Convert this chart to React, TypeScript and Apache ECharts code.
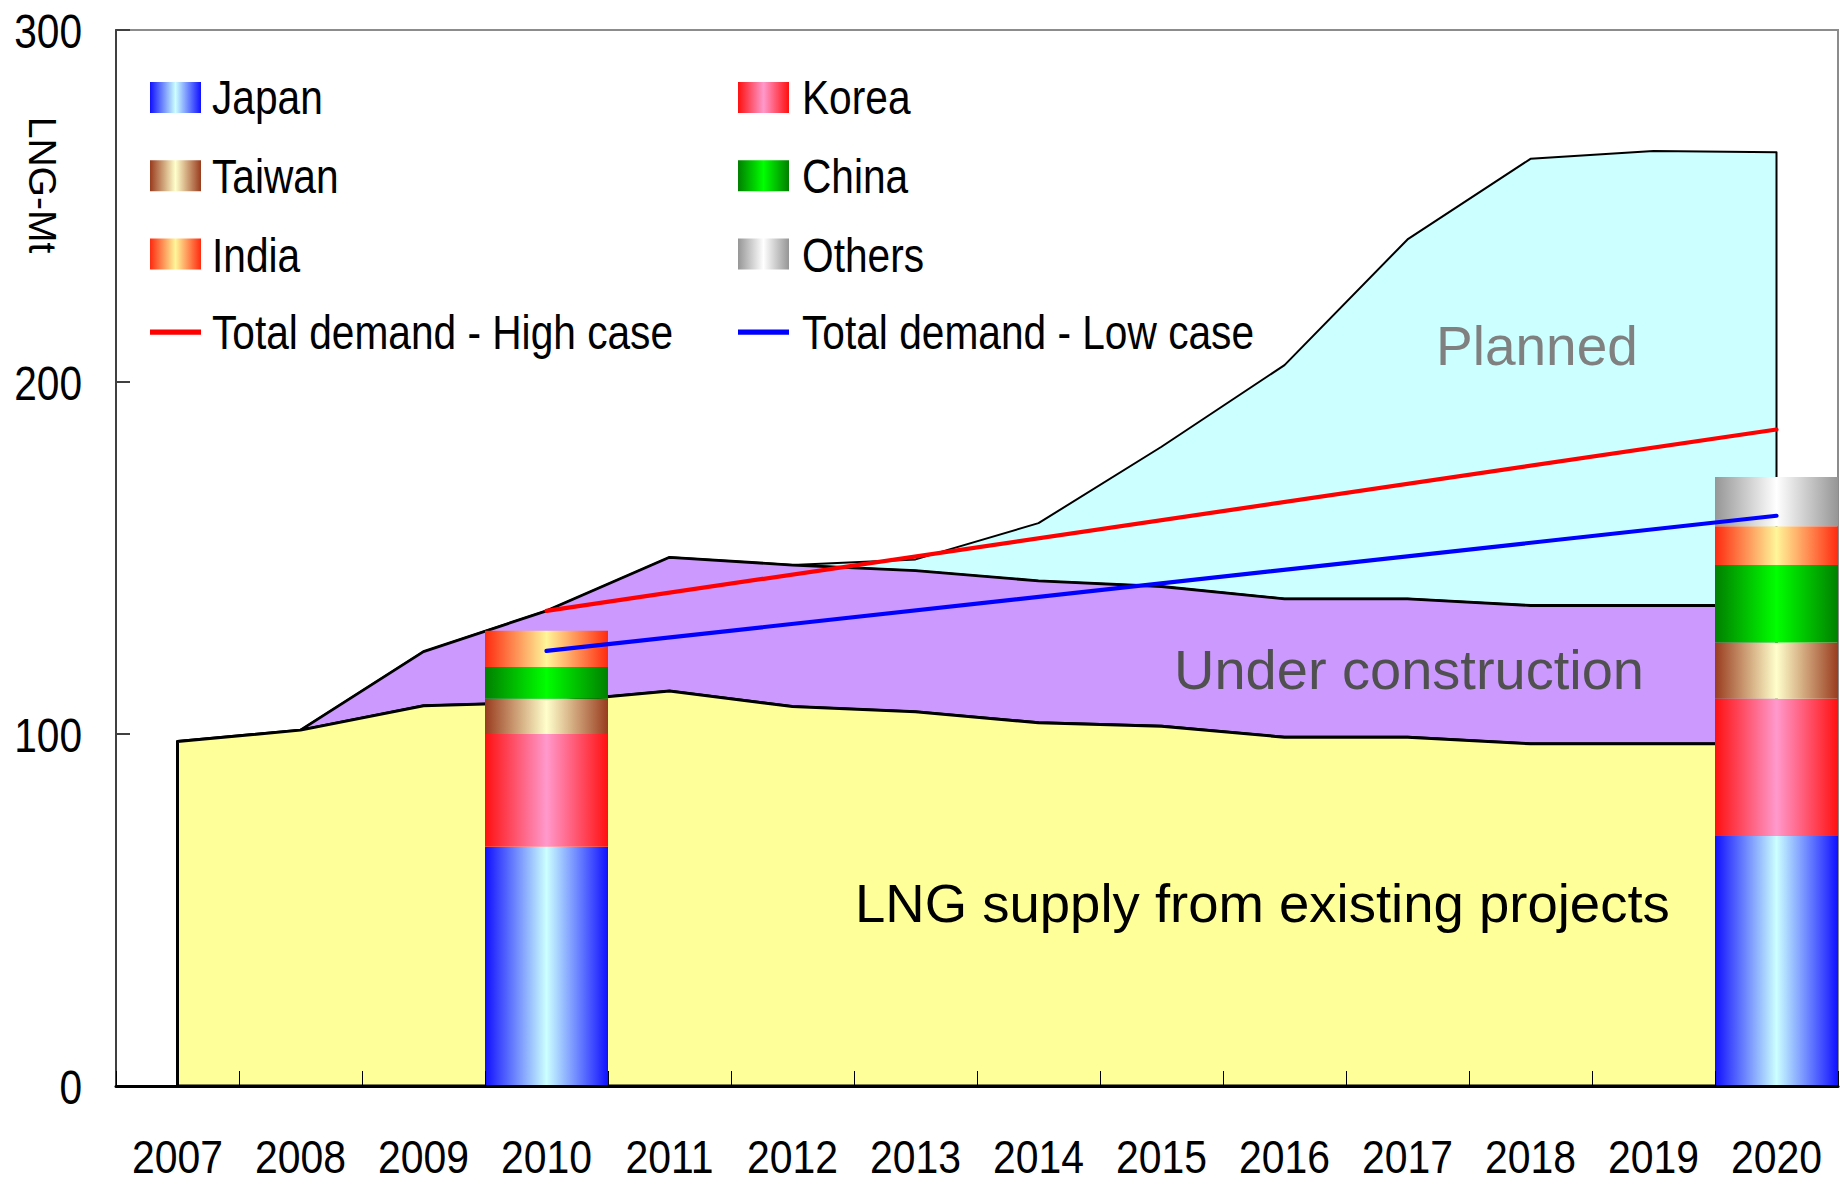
import React, { useEffect, useRef } from "react";
import * as echarts from "echarts";

const SANS = "'Liberation Sans', Arial, sans-serif";
const CONDENSE = 0.83;

const years = ["2007", "2008", "2009", "2010", "2011", "2012", "2013", "2014", "2015", "2016", "2017", "2018", "2019", "2020"];
const yTicks = [0, 100, 200, 300];

// Supply capacity (LNG-Mt)
const existingSupply = [97.9, 101.1, 108, 109, 112.2, 107.8, 106.3, 103.2, 102.2, 99.1, 99.1, 97.2, 97.2, 97.2];
const underConstruction = [0, 0, 15.4, 26, 38, 40.2, 40.1, 40.3, 39.7, 39.3, 39.3, 39.3, 39.3, 39.3];
const planned = [0, 0, 0, 0, 0, 0, 3.2, 16.4, 39.7, 66.4, 102.1, 126.9, 129.1, 128.8];

// Demand lines (only end points given)
const highCase: (number | null)[] = [null, null, null, 135, null, null, null, null, null, null, null, null, null, 186.5];
const lowCase: (number | null)[] = [null, null, null, 123.6, null, null, null, null, null, null, null, null, null, 162];

// Demand breakdown bars
const barYears = ["2010", "2020"];
const japan = [68, 71];
const korea = [32, 39];
const taiwan = [10, 16];
const china = [9, 22];
const india = [10.3, 11];
const others = [0, 14];

const legendCol1 = ["Japan", "Taiwan", "India", "Total demand - High case"];
const legendCol2 = ["Korea", "China", "Others", "Total demand - Low case"];

const grad = (edge: string, center: string) =>
  new echarts.graphic.LinearGradient(0, 0, 1, 0, [
    { offset: 0, color: edge },
    { offset: 0.5, color: center },
    { offset: 1, color: edge },
  ]);

function cumulative(...arrs: number[][]) {
  return arrs[0].map((_, i) => arrs.reduce((s, a) => s + a[i], 0));
}

const LINE_ICON = "path://M0,0 L53,0 L53,5.5 L0,5.5 Z";

export default function App() {
  const ref = useRef<HTMLDivElement>(null);

  useEffect(() => {
    if (!ref.current) return;
    const chart = echarts.init(ref.current, undefined, { renderer: "svg" });

    const top0 = cumulative(existingSupply);
    const top1 = cumulative(existingSupply, underConstruction);
    const top2 = cumulative(existingSupply, underConstruction, planned);
    const zeros = years.map(() => 0);

    const areaSeries = (name: string, lower: number[], upper: number[], fill: string, lw: number) => ({
      type: "custom",
      name,
      data: [[0, upper[0]]],
      encode: { x: 0, y: 1 },
      silent: true,
      renderItem: (params: any, api: any) => {
        const pts: number[][] = [];
        for (let i = 0; i < years.length; i++) pts.push(api.coord([i, upper[i]]));
        for (let i = years.length - 1; i >= 0; i--) pts.push(api.coord([i, lower[i]]));
        return {
          type: "polygon",
          shape: { points: pts },
          style: { fill, stroke: "#000", lineWidth: lw, lineJoin: "round" },
        };
      },
    });

    const barData = (vals: number[]) =>
      years.map((y) => {
        const k = barYears.indexOf(y);
        return k >= 0 ? vals[k] : null;
      });

    const barSeries = (name: string, vals: number[], edge: string, center: string) => ({
      type: "bar",
      name,
      stack: "demand",
      barWidth: "100%",
      data: barData(vals),
      itemStyle: { color: grad(edge, center) },
    });

    const legendCommon = {
      orient: "vertical",
      icon: "rect",
      itemWidth: 51,
      itemHeight: 31,
      itemGap: 29.2,
      padding: 0,
      selectedMode: false,
      formatter: () => " ",
      textStyle: { fontSize: 49, lineHeight: 49, fontFamily: SANS, color: "#000" },
    };

    chart.setOption({
      animation: false,
      backgroundColor: "#fff",
      grid: {
        left: 116,
        right: 2,
        top: 30,
        bottom: 99,
        show: true,
        borderColor: "#8c8c8c",
        borderWidth: 2,
      },
      legend: [
        {
          ...legendCommon,
          left: 150,
          top: 73,
          data: [
            ...legendCol1.slice(0, 3),
            { name: legendCol1[3], icon: LINE_ICON, itemStyle: { color: "#FF0000" } },
          ],
        },
        {
          ...legendCommon,
          left: 738,
          top: 73,
          data: [
            ...legendCol2.slice(0, 3),
            { name: legendCol2[3], icon: LINE_ICON, itemStyle: { color: "#0000FF" } },
          ],
        },
      ],
      xAxis: {
        type: "category",
        data: years,
        boundaryGap: true,
        z: 10,
        axisLine: { lineStyle: { color: "#000", width: 3 } },
        axisTick: { show: true, inside: true, length: 15, interval: 0, lineStyle: { color: "#000", width: 1 } },
        axisLabel: { show: false },
        splitLine: { show: false },
      },
      yAxis: {
        type: "value",
        min: yTicks[0],
        max: yTicks[yTicks.length - 1],
        interval: 100,
        axisLine: { show: true, lineStyle: { color: "#404040", width: 2 } },
        axisTick: { show: true, inside: true, length: 14, lineStyle: { color: "#404040", width: 2 } },
        axisLabel: { show: false },
        splitLine: { show: false },
      },
      series: [
        areaSeries("Planned", top1, top2, "#CCFFFF", 2),
        areaSeries("Under construction", top0, top1, "#CC99FF", 2.8),
        areaSeries("Existing", zeros, top0, "#FFFF99", 3),
        barSeries("Japan", japan, "#1010FF", "#CCFFFF"),
        barSeries("Korea", korea, "#FF1010", "#FF99CC"),
        barSeries("Taiwan", taiwan, "#993C1E", "#FFFFCC"),
        barSeries("China", china, "#008000", "#00FF00"),
        barSeries("India", india, "#FF2A10", "#FFF599"),
        barSeries("Others", others, "#969696", "#FFFFFF"),
        {
          type: "line",
          name: "Total demand - High case",
          data: highCase,
          connectNulls: true,
          symbol: "none",
          z: 4,
          lineStyle: { color: "#FF0000", width: 4.2, cap: "round" },
          itemStyle: { color: "#FF0000" },
        },
        {
          type: "line",
          name: "Total demand - Low case",
          data: lowCase,
          connectNulls: true,
          symbol: "none",
          z: 4,
          lineStyle: { color: "#0000FF", width: 4.2, cap: "round" },
          itemStyle: { color: "#0000FF" },
        },
      ],
    });

    const condensedText = (text: string, x: number, y: number, align: string, size = 49, sx = CONDENSE) => ({
      type: "text",
      x,
      y,
      scaleX: sx,
      z: 20,
      silent: true,
      style: {
        text,
        fontSize: size,
        fontFamily: SANS,
        fill: "#000",
        textAlign: align,
        textVerticalAlign: "middle",
      },
    });

    const xLabelEls = years.map((y, i) => {
      const p = chart.convertToPixel({ gridIndex: 0 }, [i, 0]) as number[];
      return condensedText(y, p[0], 1156, "center", 47, 0.87);
    });
    const yLabelEls = yTicks.map((v) => {
      const p = chart.convertToPixel({ gridIndex: 0 }, [0, v]) as number[];
      return condensedText(String(v), 82, p[1] + 1, "right");
    });
    const rowY = [97.5, 176.5, 255, 332];
    const legendTextEls = [
      ...legendCol1.map((t, i) => condensedText(t, 212, rowY[i], "left")),
      ...legendCol2.map((t, i) => condensedText(t, 802, rowY[i], "left")),
    ];

    chart.setOption({
      graphic: [
        {
          type: "text",
          x: 42,
          y: 185,
          rotation: -Math.PI / 2,
          style: { text: "LNG-Mt", fontSize: 39, fontFamily: SANS, fill: "#000", textAlign: "center", textVerticalAlign: "middle" },
        },
        {
          type: "text",
          x: 1436,
          y: 346,
          z: 5,
          style: { text: "Planned", fontSize: 55, fontFamily: SANS, fill: "#808080", textAlign: "left", textVerticalAlign: "middle" },
        },
        {
          type: "text",
          x: 1174,
          y: 669,
          z: 5,
          style: { text: "Under construction", fontSize: 56, fontFamily: SANS, fill: "#505050", textAlign: "left", textVerticalAlign: "middle" },
        },
        {
          type: "text",
          x: 855,
          y: 903,
          z: 5,
          style: { text: "LNG supply from existing projects", fontSize: 54.5, fontFamily: SANS, fill: "#000", textAlign: "left", textVerticalAlign: "middle" },
        },
        ...xLabelEls,
        ...yLabelEls,
        ...legendTextEls,
      ],
    });

    return () => chart.dispose();
  }, []);

  return (
    <div
      ref={ref}
      style={{ position: "absolute", left: 0, top: 0, width: 1840, height: 1185 }}
    />
  );
}
